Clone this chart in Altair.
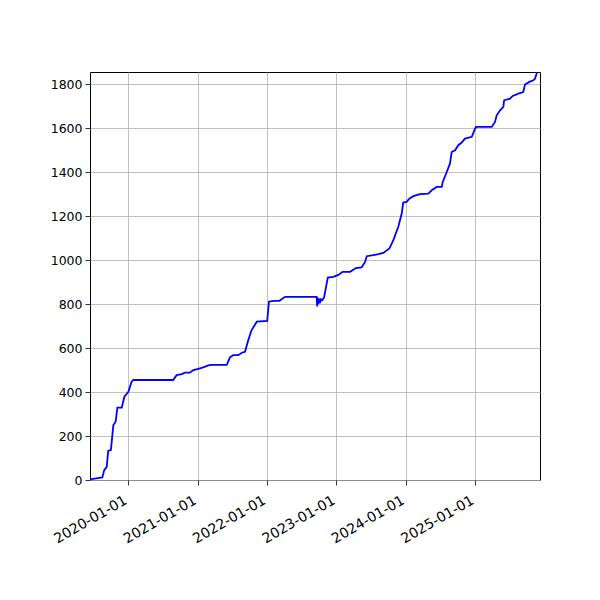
import altair as alt
import pandas as pd

dates = [
    "2019-06-15", "2019-08-19", "2019-08-29", "2019-09-11", "2019-09-19",
    "2019-10-03", "2019-10-16", "2019-10-28", "2019-11-06", "2019-11-29",
    "2019-12-13", "2020-01-03", "2020-01-20", "2020-01-29", "2020-08-26",
    "2020-09-13", "2020-10-10", "2020-10-27", "2020-11-22", "2020-12-10",
    "2021-01-05", "2021-01-31", "2021-02-27", "2021-03-17", "2021-06-04",
    "2021-06-21", "2021-07-08", "2021-08-04", "2021-08-22", "2021-09-08",
    "2021-09-25", "2021-10-13", "2021-11-09", "2022-01-03", "2022-01-12",
    "2022-02-04", "2022-03-08", "2022-04-07", "2022-09-20", "2022-09-23",
    "2022-09-26", "2022-09-29", "2022-10-03", "2022-10-08", "2022-10-13",
    "2022-10-20", "2022-10-29", "2022-11-18", "2022-12-17", "2023-01-12",
    "2023-02-04", "2023-03-15", "2023-04-15", "2023-05-15", "2023-06-02",
    "2023-06-11", "2023-07-16", "2023-08-11", "2023-09-06", "2023-10-08",
    "2023-10-29", "2023-11-24", "2023-12-12", "2023-12-20", "2024-01-07",
    "2024-01-21", "2024-02-11", "2024-03-17", "2024-04-30", "2024-05-18",
    "2024-06-13", "2024-07-10", "2024-07-15", "2024-08-05", "2024-08-22",
    "2024-08-31", "2024-09-18", "2024-10-05", "2024-10-23", "2024-11-09",
    "2024-12-15", "2025-01-01", "2025-01-06", "2025-03-30", "2025-04-16",
    "2025-04-25", "2025-05-13", "2025-05-30", "2025-06-03", "2025-07-04",
    "2025-07-18", "2025-08-05", "2025-08-17", "2025-09-12", "2025-09-21",
    "2025-10-14", "2025-11-04", "2025-11-13", "2025-11-24",
]
values = [
    3, 12, 45, 60, 133,
    136, 250, 265, 329, 329,
    379, 401, 447, 455, 455,
    477, 482, 488, 488, 500,
    506, 512, 521, 524, 524,
    558, 568, 568, 579, 583,
    636, 682, 720, 724, 811,
    815, 815, 833, 833, 790,
    830, 800, 825, 805, 822,
    818, 830, 921, 924, 933,
    947, 947, 964, 967, 992,
    1018, 1023, 1027, 1033, 1053,
    1091, 1152, 1212, 1262, 1265,
    1280, 1291, 1300, 1303, 1318,
    1333, 1333, 1356, 1401, 1439,
    1492, 1500, 1523, 1535, 1553,
    1561, 1598, 1606, 1606, 1629,
    1659, 1682, 1697, 1727, 1735,
    1747, 1753, 1758, 1765, 1799,
    1811, 1818, 1826, 1856,
]
tick_years = [2020, 2021, 2022, 2023, 2024, 2025]

df = pd.DataFrame({"date": pd.to_datetime(dates), "count": values})

x_domain = [alt.DateTime(year=2019, month=6, date=15),
            alt.DateTime(year=2025, month=12, date=9)]
x_ticks = [alt.DateTime(year=y, month=1, date=1) for y in tick_years]

chart = (
    alt.Chart(df)
    .mark_line(color="#0000ff", strokeWidth=1.8, clip=True)
    .encode(
        x=alt.X("date:T", title=None,
                scale=alt.Scale(domain=x_domain, nice=False),
                axis=alt.Axis(values=x_ticks, format="%Y-%m-%d", labelAngle=-30,
                              labelAlign="right", labelBaseline="top",
                              labelPadding=8, labelOffset=-6, labelOverlap=False,
                              labelFontSize=14)),
        y=alt.Y("count:Q", title=None,
                scale=alt.Scale(domain=[0, 1856], nice=False),
                axis=alt.Axis(values=list(range(0, 1801, 200)), format="d",
                              labelPadding=3, labelFontSize=12.5)),
    )
    .properties(width=450, height=408,
                autosize=alt.AutoSizeParams(type="none"),
                padding={"left": 82, "top": 64, "right": 44, "bottom": 104})
    .configure_view(stroke="black", strokeWidth=1)
    .configure_axis(
        grid=True, gridColor="#b0b0b0", gridWidth=0.8,
        domain=False, tickColor="black", tickSize=5, tickWidth=0.8,
        labelFont="DejaVu Sans", labelColor="black",
    )
)

chart.save("out.html", embed_options={"renderer": "svg", "actions": False})
